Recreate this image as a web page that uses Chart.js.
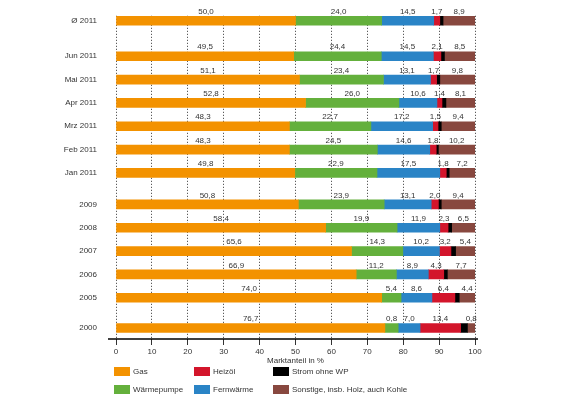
<!DOCTYPE html>
<html><head><meta charset="utf-8">
<script src="https://cdn.jsdelivr.net/npm/chart.js@4"></script>
<style>
html,body{margin:0;padding:0;background:#fff;}
#wrap{position:relative;width:578px;height:398px;overflow:hidden;}
canvas{position:absolute;left:0;top:0;}
.leg{position:absolute;height:10px;font:8px "Liberation Sans",Arial,sans-serif;color:#333;display:flex;align-items:center;white-space:nowrap;}
.leg .sw{display:inline-block;width:16px;height:9px;margin-right:3px;}
</style></head><body>
<div id="wrap"><canvas id="c" width="578" height="398"></canvas><div id="legend"></div></div>
<script>
// Row categories and their (gapped) positions on the category axis
const rowLabels = ['Ø 2011','Jun 2011','Mai 2011','Apr 2011','Mrz 2011','Feb 2011','Jan 2011','2009','2008','2007','2006','2005','2000'];
const rowPositions = [0,1.52,2.52,3.52,4.52,5.52,6.52,7.87,8.87,9.87,10.87,11.87,13.17];
const xTicks = [0,10,20,30,40,50,60,70,80,90,100];

// Bar lengths (market share in %)
const gas          = [50.0,49.5,51.1,52.8,48.3,48.3,49.8,50.8,58.4,65.6,66.9,74.0,74.9];
const waermepumpe  = [24.0,24.4,23.4,26.0,22.7,24.5,22.9,23.9,19.9,14.3,11.2,5.4,3.7];
const fernwaerme   = [14.5,14.5,13.1,10.6,17.2,14.6,17.5,13.1,11.9,10.2,8.9,8.6,6.1];
const heizoel      = [1.7,2.1,1.7,1.4,1.5,1.8,1.8,2.0,2.3,3.2,4.3,6.4,11.3];
const strom        = [0.9,1.0,0.9,1.1,0.9,0.6,0.8,0.8,1.0,1.3,1.0,1.2,1.9];
const sonstige     = [8.9,8.5,9.8,8.1,9.4,10.2,7.2,9.4,6.5,5.4,7.7,4.4,2.1];

// Printed value labels
const gasPrinted         = [50.0,49.5,51.1,52.8,48.3,48.3,49.8,50.8,58.4,65.6,66.9,74.0,76.7];
const waermepumpePrinted = [24.0,24.4,23.4,26.0,22.7,24.5,22.9,23.9,19.9,14.3,11.2,5.4,0.8];
const fernwaermePrinted  = [14.5,14.5,13.1,10.6,17.2,14.6,17.5,13.1,11.9,10.2,8.9,8.6,7.0];
const heizoelPrinted     = [1.7,2.1,1.7,1.4,1.5,1.8,1.8,2.0,2.3,3.2,4.3,6.4,13.4];
const sonstigePrinted    = [8.9,8.5,9.8,8.1,9.4,10.2,7.2,9.4,6.5,5.4,7.7,4.4,0.8];

const seriesNames = ['Gas','Wärmepumpe','Fernwärme','Heizöl','Strom ohne WP','Sonstige, insb. Holz, auch Kohle'];
const seriesColors = ['#F39200','#64B03C','#2A84C6','#D3152B','#000000','#88483F'];
const FONT = '"Liberation Sans", Arial, sans-serif';
const TXT = '#333333';

const values = [gas, waermepumpe, fernwaerme, heizoel, strom, sonstige];
const printed = [gasPrinted, waermepumpePrinted, fernwaermePrinted, heizoelPrinted, null, sonstigePrinted];

const datasets = values.map((arr, k) => ({
  label: seriesNames[k],
  data: arr.map((v, i) => ({x: v, y: rowPositions[i]})),
  backgroundColor: seriesColors[k],
  borderWidth: 0,
  barThickness: 9,
  printed: printed[k]
}));

const fmt = v => v.toFixed(1).replace('.', ',');

const valueLabels = {
  id: 'valueLabels',
  afterDatasetsDraw(chart) {
    const ctx = chart.ctx;
    const ca = chart.chartArea;
    // axis line
    ctx.save();
    ctx.strokeStyle = '#000';
    ctx.lineWidth = 1.5;
    ctx.beginPath();
    ctx.moveTo(ca.left - 8, ca.bottom);
    ctx.lineTo(ca.right + 3, ca.bottom);
    ctx.stroke();
    ctx.font = '8px ' + FONT;
    ctx.fillStyle = TXT;
    ctx.textAlign = 'center';
    ctx.textBaseline = 'middle';
    chart.data.datasets.forEach((ds, di) => {
      if (!ds.printed) return;
      chart.getDatasetMeta(di).data.forEach((bar, i) => {
        const p = bar.getProps(['x', 'y', 'base'], true);
        ctx.fillText(fmt(ds.printed[i]), (p.x + p.base) / 2, p.y - 9);
      });
    });
    ctx.restore();
  }
};

new Chart(document.getElementById('c'), {
  type: 'bar',
  data: { datasets },
  plugins: [valueLabels],
  options: {
    indexAxis: 'y',
    responsive: false,
    animation: false,
    layout: { padding: { left: 0, right: 103, top: 15, bottom: 32 } },
    plugins: { legend: { display: false }, tooltip: { enabled: false } },
    scales: {
      x: {
        type: 'linear', stacked: true, min: 0, max: 100, position: 'bottom',
        afterBuildTicks(s) { s.ticks = xTicks.map(v => ({value: v})); },
        ticks: { color: TXT, font: { size: 8, family: FONT }, padding: 2, autoSkip: false },
        grid: { color: '#333', lineWidth: 1, tickLength: 6 },
        border: { display: false, dash: [1, 2] },
        title: { display: true, text: 'Marktanteil in %', color: TXT, font: { size: 8, family: FONT }, padding: 0 },
        afterFit(s) { s.height = 27; }
      },
      y: {
        type: 'linear', stacked: true, reverse: true, offset: false, min: -0.214, max: 13.64,
        afterBuildTicks(s) { s.ticks = rowPositions.map(v => ({value: v})); },
        ticks: { color: TXT, font: { size: 8, family: FONT }, padding: 11, autoSkip: false,
                 callback: (v, i) => rowLabels[i] },
        grid: { display: false },
        border: { display: false },
        afterFit(s) { s.width = 116; }
      }
    }
  }
});

// Legend (3 columns x 2 rows)
const legendOrder = [0, 3, 4, 1, 2, 5];
const legendCols = [114, 194, 273];
const legendRows = [366, 384];
const lg = document.getElementById('legend');
legendOrder.forEach((k, n) => {
  const d = document.createElement('div');
  d.className = 'leg';
  d.style.left = legendCols[n % 3] + 'px';
  d.style.top = legendRows[Math.floor(n / 3)] + 'px';
  const sw = document.createElement('span');
  sw.className = 'sw';
  sw.style.background = seriesColors[k];
  d.appendChild(sw);
  d.appendChild(document.createTextNode(seriesNames[k]));
  lg.appendChild(d);
});
</script>
</body></html>
